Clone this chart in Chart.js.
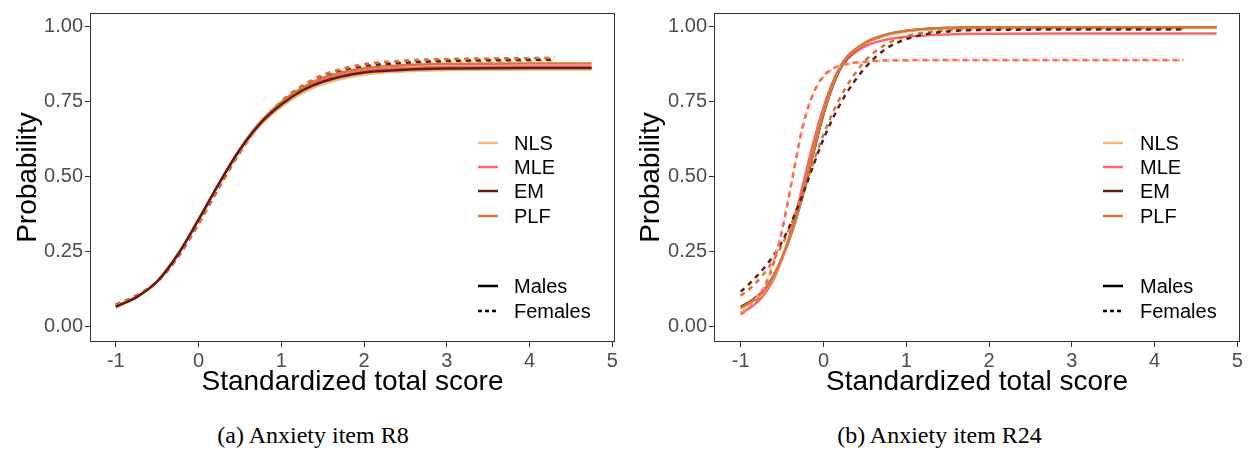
<!DOCTYPE html>
<html>
<head>
<meta charset="utf-8">
<script src="https://cdn.jsdelivr.net/npm/chart.js@4"></script>
<style>
body{margin:0;background:#fff;width:1253px;height:450px;overflow:hidden;position:relative;font-family:"Liberation Sans",Arial,sans-serif}
.pannello{position:absolute;top:0;height:400px}
.didascalia{position:absolute;top:421px;line-height:28px;font-family:"Liberation Serif","Times New Roman",serif;font-size:24px;text-align:center;color:#000}
</style>
</head>
<body>
<div class="pannello" style="left:0;width:626px"><canvas id="graficoA" width="626" height="400"></canvas></div>
<div class="pannello" style="left:626px;width:627px"><canvas id="graficoB" width="627" height="400"></canvas></div>
<div class="didascalia" style="left:0;width:626px">(a) Anxiety item R8</div>
<div class="didascalia" style="left:626px;width:627px">(b) Anxiety item R24</div>
<script>
// metodi e gruppi della legenda
var metodi = ["NLS", "MLE", "EM", "PLF"];
var colori = ["#F5B870", "#FB6768", "#5C1F1E", "#DA7539"];
var gruppi = ["Males", "Females"];
var tickY = [0, 0.25, 0.5, 0.75, 1];
var tickX = [-1, 0, 1, 2, 3, 4, 5];

// (a) item R8
var xA_M = [-1, -0.75, -0.5, -0.25, 0, 0.25, 0.5, 0.75, 1, 1.25, 1.5, 2, 2.5, 3, 4, 4.75];
var xA_F = [-1, -0.75, -0.5, -0.25, 0, 0.25, 0.5, 0.75, 1, 1.25, 1.5, 2, 2.5, 3, 4, 4.3];
var A_NLS_M = [0.068, 0.100, 0.152, 0.242, 0.357, 0.477, 0.586, 0.672, 0.733, 0.778, 0.808, 0.840, 0.851, 0.855, 0.857, 0.857];
var A_MLE_M = [0.066, 0.098, 0.150, 0.240, 0.356, 0.478, 0.590, 0.680, 0.743, 0.790, 0.822, 0.853, 0.862, 0.866, 0.867, 0.867];
var A_EM_M  = [0.066, 0.098, 0.150, 0.240, 0.356, 0.478, 0.590, 0.678, 0.740, 0.786, 0.816, 0.847, 0.856, 0.860, 0.862, 0.862];
var A_PLF_M = [0.065, 0.097, 0.150, 0.240, 0.356, 0.479, 0.592, 0.683, 0.748, 0.796, 0.829, 0.861, 0.871, 0.875, 0.877, 0.877];
var A_NLS_F = [0.074, 0.105, 0.152, 0.233, 0.343, 0.464, 0.579, 0.673, 0.742, 0.792, 0.826, 0.861, 0.874, 0.880, 0.884, 0.885];
var A_MLE_F = [0.072, 0.103, 0.150, 0.232, 0.343, 0.466, 0.582, 0.678, 0.748, 0.799, 0.834, 0.869, 0.882, 0.888, 0.891, 0.892];
var A_EM_F  = [0.072, 0.103, 0.150, 0.232, 0.343, 0.466, 0.582, 0.677, 0.746, 0.797, 0.831, 0.866, 0.879, 0.885, 0.889, 0.890];
var A_PLF_F = [0.071, 0.102, 0.149, 0.231, 0.342, 0.466, 0.583, 0.680, 0.751, 0.803, 0.839, 0.875, 0.887, 0.892, 0.895, 0.896];

// (b) item R24
var xB_M = [-1, -0.875, -0.75, -0.625, -0.5, -0.375, -0.25, -0.125, 0, 0.125, 0.25, 0.5, 0.75, 1, 1.25, 1.5, 2, 3, 4, 4.75];
var xB_F = [-1, -0.875, -0.75, -0.625, -0.5, -0.375, -0.25, -0.125, 0, 0.125, 0.25, 0.5, 0.75, 1, 1.25, 1.5, 2, 3, 4, 4.35];
var B_NLS_M = [0.060, 0.080, 0.108, 0.155, 0.226, 0.322, 0.443, 0.583, 0.714, 0.818, 0.886, 0.944, 0.971, 0.984, 0.991, 0.994, 0.996, 0.997, 0.997, 0.997];
var B_MLE_M = [0.045, 0.065, 0.095, 0.145, 0.225, 0.335, 0.470, 0.610, 0.730, 0.823, 0.880, 0.934, 0.956, 0.966, 0.971, 0.974, 0.976, 0.977, 0.977, 0.977];
var B_EM_M  = [0.065, 0.085, 0.112, 0.158, 0.228, 0.320, 0.437, 0.575, 0.707, 0.812, 0.882, 0.943, 0.971, 0.985, 0.992, 0.995, 0.997, 0.998, 0.998, 0.998];
var B_PLF_M = [0.062, 0.082, 0.110, 0.158, 0.230, 0.325, 0.445, 0.585, 0.715, 0.820, 0.888, 0.946, 0.973, 0.986, 0.993, 0.996, 0.998, 0.998, 0.998, 0.998];
var B_NLS_F = [0.046, 0.072, 0.118, 0.198, 0.325, 0.495, 0.665, 0.772, 0.832, 0.860, 0.872, 0.882, 0.886, 0.887, 0.888, 0.888, 0.888, 0.888, 0.888, 0.888];
var B_MLE_F = [0.040, 0.065, 0.110, 0.190, 0.320, 0.495, 0.668, 0.776, 0.835, 0.862, 0.874, 0.883, 0.887, 0.888, 0.889, 0.889, 0.889, 0.889, 0.889, 0.889];
var B_EM_F  = [0.116, 0.148, 0.185, 0.228, 0.283, 0.355, 0.440, 0.535, 0.625, 0.700, 0.765, 0.862, 0.925, 0.958, 0.975, 0.984, 0.989, 0.990, 0.990, 0.990];
var B_PLF_F = [0.102, 0.130, 0.166, 0.212, 0.272, 0.350, 0.445, 0.545, 0.640, 0.720, 0.787, 0.885, 0.940, 0.968, 0.981, 0.988, 0.992, 0.993, 0.993, 0.993];

function serie(xs, ys, colore, tratteggio) {
    var punti = [];
    for (let i = 0; i < xs.length; i++) {
        punti.push({x: xs[i], y: ys[i]});
    }
    return {
        data: punti,
        borderColor: colore,
        borderWidth: 2.5,
        borderDash: tratteggio ? [5, 5] : [],
        pointRadius: 0,
        fill: false,
        cubicInterpolationMode: "monotone"
    };
}

// legenda e cornice disegnate a mano dentro il grafico
var legendaPlugin = {
    id: "legenda",
    afterDraw: function (chart, args, opts) {
        var ctx = chart.ctx;
        var a = chart.chartArea;
        ctx.save();
        ctx.strokeStyle = "#333333";
        ctx.lineWidth = 1;
        ctx.strokeRect(a.left - 0.5, a.top - 0.5, a.right - a.left + 1, a.bottom - a.top + 1);
        ctx.font = "20px 'Liberation Sans', Arial, sans-serif";
        ctx.textBaseline = "middle";
        ctx.lineWidth = 2.5;
        var righe = [143, 167, 191, 216];
        for (let i = 0; i < metodi.length; i++) {
            ctx.strokeStyle = colori[i];
            ctx.beginPath();
            ctx.moveTo(opts.x0, righe[i]);
            ctx.lineTo(opts.x1, righe[i]);
            ctx.stroke();
            ctx.fillStyle = "#000";
            ctx.fillText(metodi[i], opts.xt, righe[i] + 1);
        }
        var righe2 = [286, 311];
        for (let j = 0; j < gruppi.length; j++) {
            ctx.strokeStyle = "#000";
            ctx.setLineDash(j == 1 ? [4, 3] : []);
            ctx.beginPath();
            ctx.moveTo(opts.x0, righe2[j]);
            ctx.lineTo(opts.x1, righe2[j]);
            ctx.stroke();
            ctx.setLineDash([]);
            ctx.fillText(gruppi[j], opts.xt, righe2[j] + 1);
        }
        ctx.restore();
    }
};

function creaGrafico(id, xM, xF, maschi, femmine, cfg) {
    var datasets = [];
    // ordine: il primo viene disegnato sopra
    var ordine = cfg.ordine;
    for (let k = 0; k < ordine.length; k++) {
        let o = ordine[k];
        if (o[1] == "M") datasets.push(serie(xM, maschi[o[0]], colori[o[0]], false));
        else datasets.push(serie(xF, femmine[o[0]], colori[o[0]], true));
    }
    var tickFont = {family: "'Liberation Sans', Arial, sans-serif", size: 20};
    var titleFont = {family: "'Liberation Sans', Arial, sans-serif", size: 28};
    return new Chart(document.getElementById(id).getContext("2d"), {
        type: "line",
        data: {datasets: datasets},
        options: {
            responsive: false,
            animation: false,
            devicePixelRatio: 1,
            layout: {padding: {left: 0, top: 3, right: cfg.destra, bottom: 0}},
            plugins: {
                legend: {display: false},
                tooltip: {enabled: false},
                legenda: {x0: cfg.x0, x1: cfg.x1, xt: cfg.xt}
            },
            scales: {
                x: {
                    type: "linear",
                    min: cfg.xmin,
                    max: cfg.xmax,
                    afterFit: function (s) { s.height = 59; },
                    afterBuildTicks: function (s) { s.ticks = tickX.map(function (v) { return {value: v}; }); },
                    ticks: {font: tickFont, color: "#4D4D4D", padding: 2, maxRotation: 0,
                        callback: function (v) { return String(v); }},
                    grid: {drawOnChartArea: false, drawTicks: true, tickLength: 6, color: "#333333"},
                    border: {display: false},
                    title: {display: true, text: "Standardized total score", color: "#000", font: titleFont,
                        padding: {top: 0, bottom: 1}}
                },
                y: {
                    min: -0.0484,
                    max: 1.042,
                    afterFit: function (s) { s.width = cfg.sinistra; },
                    afterBuildTicks: function (s) { s.ticks = tickY.map(function (v) { return {value: v}; }); },
                    ticks: {font: tickFont, color: "#4D4D4D", padding: 2,
                        callback: function (v) { return v.toFixed(2); }},
                    grid: {drawOnChartArea: false, drawTicks: true, tickLength: 6, color: "#333333"},
                    border: {display: false},
                    title: {display: true, text: "Probability", color: "#000", font: titleFont,
                        padding: {top: cfg.titoloY, bottom: 0}}
                }
            }
        },
        plugins: [legendaPlugin]
    });
}

creaGrafico("graficoA", xA_M, xA_F,
    [A_NLS_M, A_MLE_M, A_EM_M, A_PLF_M],
    [A_NLS_F, A_MLE_F, A_EM_F, A_PLF_F],
    {xmin: -1.30, xmax: 5.02, sinistra: 91, destra: 12, titoloY: 11,
     x0: 478, x1: 498, xt: 514,
     ordine: [[2, "M"], [3, "M"], [1, "M"], [0, "M"], [3, "F"], [2, "F"], [1, "F"], [0, "F"]]});

creaGrafico("graficoB", xB_M, xB_F,
    [B_NLS_M, B_MLE_M, B_EM_M, B_PLF_M],
    [B_NLS_F, B_MLE_F, B_EM_F, B_PLF_F],
    {xmin: -1.31, xmax: 5.02, sinistra: 89, destra: 14, titoloY: 8,
     x0: 477, x1: 497, xt: 514,
     ordine: [[1, "F"], [0, "F"], [2, "F"], [3, "F"], [3, "M"], [0, "M"], [2, "M"], [1, "M"]]});
</script>
</body>
</html>
